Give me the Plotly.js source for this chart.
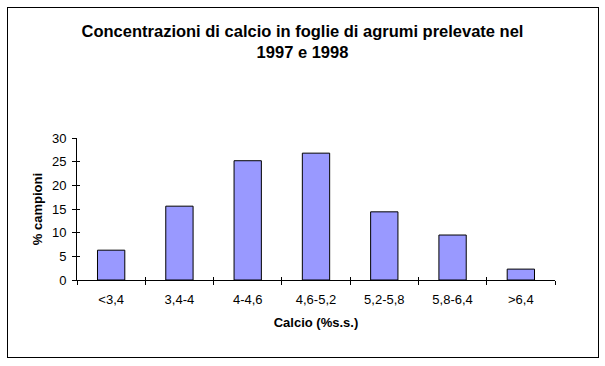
<!DOCTYPE html>
<html>
<head>
<meta charset="utf-8">
<script src="https://cdn.plot.ly/plotly-3.0.1.min.js"></script>
<style>
html,body{margin:0;padding:0;background:#fff;}
#wrap{position:relative;width:605px;height:366px;}
#chart{width:605px;height:366px;}
#frame{position:absolute;left:7px;top:7px;width:590px;height:349px;border:1px solid #000;pointer-events:none;}
</style>
</head>
<body>
<div id="wrap"><div id="chart"></div><div id="frame"></div></div>
<script>
const categories = ["<3,4", "3,4-4", "4-4,6", "4,6-5,2", "5,2-5,8", "5,8-6,4", ">6,4"];
const values = [6.3, 15.6, 25.2, 26.8, 14.4, 9.5, 2.3];
const yTicks = [0, 5, 10, 15, 20, 25, 30];

const font = "Arial, 'Liberation Sans', sans-serif";

const data = [{
  type: "bar",
  x: categories,
  y: values,
  marker: {color: "#9999FF", line: {color: "#000000", width: 1}},
  hoverinfo: "x+y"
}];

const layout = {
  width: 605, height: 366,
  margin: {l: 77, r: 50, t: 138, b: 86},
  paper_bgcolor: "#fff", plot_bgcolor: "#fff",
  showlegend: false,
  bargap: 0.6,
  font: {family: font, size: 13, color: "#000"},
  title: {
    text: "<b>Concentrazioni di calcio in foglie di agrumi prelevate nel<br>1997 e 1998</b>",
    font: {family: font, size: 16.5, color: "#000"},
    x: 0.5, xref: "container", xanchor: "center",
    y: 1 - 36.5/366, yref: "container", yanchor: "top"
  },
  xaxis: {
    type: "category",
    range: [-0.5, 6.5],
    tickson: "boundaries",
    ticks: "outside", ticklen: 4, tickcolor: "#000", tickwidth: 1,
    ticklabelstandoff: 7,
    showline: true, linecolor: "#000", linewidth: 1,
    showgrid: false, zeroline: false,
    tickfont: {family: font, size: 13, color: "#000"},
    title: {text: "<b>Calcio (%s.s.)</b>", font: {family: font, size: 13, color: "#000"}, standoff: 12}
  },
  xaxis2: {
    type: "category", overlaying: "x", matches: "x",
    range: [-0.5, 6.5], tickson: "boundaries",
    ticks: "inside", ticklen: 3, tickcolor: "#000", tickwidth: 1,
    showticklabels: false, showgrid: false, zeroline: false, showline: false
  },
  yaxis: {
    range: [0, 30],
    tickvals: yTicks, ticktext: yTicks.map(String),
    ticks: "outside", ticklen: 4, tickcolor: "#000", tickwidth: 1,
    ticklabelstandoff: 3,
    showline: true, linecolor: "#000", linewidth: 1,
    showgrid: false, zeroline: false,
    tickfont: {family: font, size: 13, color: "#000"},
    title: {text: "<b>% campioni</b>", font: {family: font, size: 13, color: "#000"}, standoff: 6}
  },
  yaxis2: {
    range: [0, 30], overlaying: "y", matches: "y",
    tickvals: yTicks, showticklabels: false,
    ticks: "inside", ticklen: 3, tickcolor: "#000", tickwidth: 1,
    showgrid: false, zeroline: false, showline: false
  }
};

// invisible trace to activate the overlay axes (for inside tick marks)
data.push({type: "bar", x: categories, y: values.map(() => null), xaxis: "x2", yaxis: "y2", hoverinfo: "skip", showlegend: false});

Plotly.newPlot("chart", data, layout, {displayModeBar: false, staticPlot: true});
</script>
</body>
</html>
